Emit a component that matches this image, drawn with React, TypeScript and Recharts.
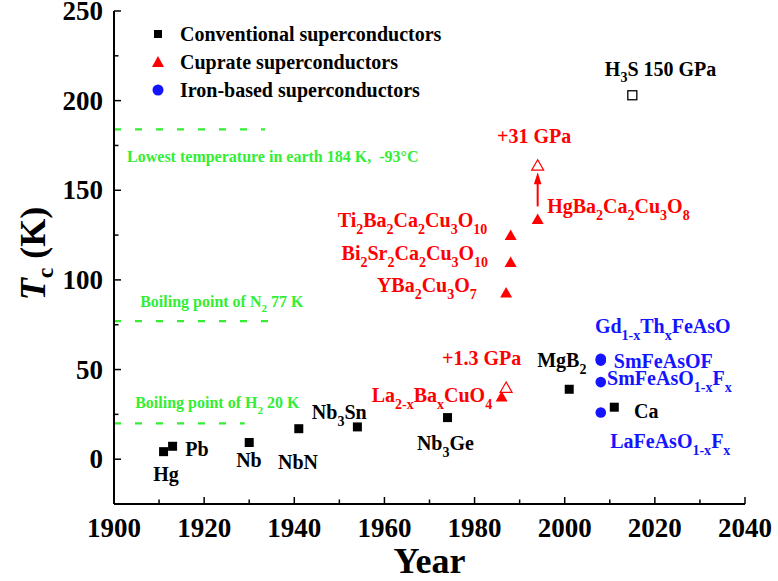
import React from "react";
import {
  ScatterChart,
  Scatter,
  XAxis,
  YAxis,
  ReferenceLine,
  Legend,
  Label,
} from "recharts";

const FONT = "'Liberation Serif', 'Times New Roman', serif";
const RED = "#ff0000";
const BLUE = "#1414ff";
const GREEN = "#33ee33";

// Tc (K) by discovery year
const conventional = [
  { name: "Hg", x: 1911, y: 4.2 },
  { name: "Pb", x: 1913, y: 7.2 },
  { name: "Nb", x: 1930, y: 9.3 },
  { name: "NbN", x: 1941, y: 17 },
  { name: "Nb3Sn", x: 1954, y: 18 },
  { name: "Nb3Ge", x: 1974, y: 23.2 },
  { name: "MgB2", x: 2001, y: 39 },
  { name: "Ca", x: 2011, y: 29 },
];
const hydride = [{ name: "H3S", x: 2015, y: 203 }];
const cuprate = [
  { name: "La2-xBaxCuO4", x: 1986, y: 35 },
  { name: "YBa2Cu3O7", x: 1987, y: 93 },
  { name: "Bi2Sr2Ca2Cu3O10", x: 1988, y: 110 },
  { name: "Tl2Ba2Ca2Cu3O10", x: 1988, y: 125 },
  { name: "HgBa2Ca2Cu3O8", x: 1994, y: 134 },
];
const cupratePressure = [
  { name: "La2-xBaxCuO4 1.3 GPa", x: 1987, y: 40 },
  { name: "HgBa2Ca2Cu3O8 31 GPa", x: 1994, y: 164 },
];
const ironBased = [
  { name: "LaFeAsO1-xFx", x: 2008, y: 26 },
  { name: "SmFeAsO1-xFx", x: 2008, y: 43 },
  { name: "SmFeAsOF", x: 2008, y: 55 },
  { name: "Gd1-xThxFeAsO", x: 2008, y: 56 },
];

// dashed reference temperatures
const levels = [
  { y: 184, end: 1933.5 },
  { y: 77, end: 1937.2 },
  { y: 20, end: 1929 },
];
const pressureArrow = [
  { x: 1994, y: 141 },
  { x: 1994, y: 160 },
];

const xTicks = [1900, 1910, 1920, 1930, 1940, 1950, 1960, 1970, 1980, 1990, 2000, 2010, 2020, 2030, 2040];
const yTicks = [0, 25, 50, 75, 100, 125, 150, 175, 200, 225, 250];

// annotation anchors in data units; "_" marks a subscript
const blackLabels = [
  { text: "Hg", x: 1908.7, y: -12.3 },
  { text: "Pb", x: 1915.8, y: 1.7 },
  { text: "Nb", x: 1927.1, y: -4.5 },
  { text: "NbN", x: 1936.4, y: -5.6 },
  { text: "Nb_3Sn", x: 1943.9, y: 22.3 },
  { text: "Nb_3Ge", x: 1967.2, y: 5 },
  { text: "MgB_2", x: 1993.9, y: 51.3 },
  { text: "Ca", x: 2015.4, y: 22.9 },
  { text: "H_3S 150 GPa", x: 2008.9, y: 214 },
];
const redLabels = [
  { text: "+31 GPa", x: 1985, y: 176.1 },
  { text: "HgBa_2Ca_2Cu_3O_8", x: 1996.1, y: 137.1 },
  { text: "Ti_2Ba_2Ca_2Cu_3O_{10}", x: 1982.8, y: 129.3, anchor: "end" },
  { text: "Bi_2Sr_2Ca_2Cu_3O_{10}", x: 1983, y: 110.9, anchor: "end" },
  { text: "YBa_2Cu_3O_7", x: 1980.5, y: 93.1, anchor: "end" },
  { text: "+1.3 GPa", x: 1972.8, y: 52.4 },
  { text: "La_{2-x}Ba_xCuO_4", x: 1983.9, y: 31.8, anchor: "end" },
];
const blueLabels = [
  { text: "Gd_{1-x}Th_xFeAsO", x: 2006.7, y: 70.2 },
  { text: "SmFeAsOF", x: 2010.9, y: 50.7 },
  { text: "SmFeAsO_{1-x}F_x", x: 2009.4, y: 41.2 },
  { text: "LaFeAsO_{1-x}F_x", x: 2010.1, y: 6.1 },
];
const greenLabels = [
  { text: "Lowest temperature in earth 184 K,  -93°C", x: 1902.9, y: 165.6 },
  { text: "Boiling point of N_2 77 K", x: 1905.8, y: 84.9 },
  { text: "Boiling point of H_2 20 K", x: 1904.7, y: 28.3 },
];

const RichText = ({ x, y, text, size, fill, anchor = "start" }: any) => {
  const parts: any[] = [];
  const re = /_\{([^}]*)\}|_(.)/g;
  const sub = size * 0.33;
  let last = 0;
  let shift = 0;
  let k = 0;
  let m: RegExpExecArray | null;
  while ((m = re.exec(text)) !== null) {
    if (m.index > last) {
      parts.push(<tspan key={k++} dy={-shift}>{text.slice(last, m.index)}</tspan>);
      shift = 0;
    }
    parts.push(
      <tspan key={k++} dy={sub - shift} fontSize={size * 0.7}>
        {m[1] ?? m[2]}
      </tspan>
    );
    shift = sub;
    last = re.lastIndex;
  }
  if (last < text.length) parts.push(<tspan key={k++} dy={-shift}>{text.slice(last)}</tspan>);
  return (
    <text
      x={x}
      y={y}
      fill={fill}
      fontSize={size}
      fontFamily={FONT}
      fontWeight="bold"
      textAnchor={anchor}
      style={{ whiteSpace: "pre" }}
    >
      {parts}
    </text>
  );
};

const labelShape = (color: string, size: number) => (p: any) => (
  <RichText x={p.cx} y={p.cy} text={p.payload.text} anchor={p.payload.anchor} size={size} fill={color} />
);

const squareShape = (hollow: boolean) => (p: any) =>
  hollow ? (
    <rect x={p.cx - 4.5} y={p.cy - 4.5} width={9} height={9} fill="#fff" stroke="#000" strokeWidth={1.3} />
  ) : (
    <rect x={p.cx - 4.5} y={p.cy - 4.5} width={9} height={9} fill="#000" />
  );

const triangleShape = (hollow: boolean) => (p: any) => (
  <polygon
    points={`${p.cx},${p.cy - 5.5} ${p.cx - 6},${p.cy + 5} ${p.cx + 6},${p.cy + 5}`}
    fill={hollow ? "#fff" : RED}
    stroke={RED}
    strokeWidth={hollow ? 1.2 : 0}
  />
);

const circleShape = (p: any) => <circle cx={p.cx} cy={p.cy} r={5.3} fill={BLUE} />;

const tickText = { fontFamily: FONT, fontWeight: "bold", fontSize: 27, fill: "#000" } as const;

const BottomTick = ({ x, y, payload }: any) => {
  const major = payload.value % 20 === 0;
  return (
    <g>
      <line x1={x} x2={x} y1={y} y2={y - (major ? 7 : 4.5)} stroke="#000" strokeWidth={1.5} />
      {major && (
        <text x={x} y={y + 33} textAnchor="middle" {...tickText}>
          {payload.value}
        </text>
      )}
    </g>
  );
};

const TopTick = ({ x, y, payload }: any) => (
  <line x1={x} x2={x} y1={y} y2={y + (payload.value % 20 === 0 ? 7 : 4.5)} stroke="#000" strokeWidth={1.5} />
);

const LeftTick = ({ x, y, payload }: any) => {
  const major = payload.value % 50 === 0;
  return (
    <g>
      <line x1={x} x2={x + (major ? 7 : 4.5)} y1={y} y2={y} stroke="#000" strokeWidth={1.5} />
      {major && (
        <text x={x - 11} y={y} dy="0.34em" textAnchor="end" {...tickText}>
          {payload.value}
        </text>
      )}
    </g>
  );
};

const RightTick = ({ x, y, payload }: any) => (
  <line x1={x} x2={x - (payload.value % 50 === 0 ? 7 : 4.5)} y1={y} y2={y} stroke="#000" strokeWidth={1.5} />
);

const Arrow = ({ x1, y1, x2, y2 }: any) => (
  <g>
    <line x1={x1} y1={y1} x2={x2} y2={y2 + 8} stroke={RED} strokeWidth={2} />
    <polygon points={`${x2},${y2} ${x2 - 3.8},${y2 + 12} ${x2 + 3.8},${y2 + 12}`} fill={RED} />
  </g>
);

const LegendIcon = ({ type }: any) => (
  <svg width={16} height={16} style={{ display: "block" }}>
    {type === "square" && <rect x={4} y={4} width={8} height={8} fill="#000" />}
    {type === "triangle" && <polygon points="8,2 2,13 14,13" fill={RED} />}
    {type === "circle" && <circle cx={8} cy={8} r={5.5} fill={BLUE} />}
  </svg>
);

const LegendContent = ({ payload }: any) => (
  <div style={{ fontFamily: FONT, fontWeight: "bold", fontSize: 20, color: "#000" }}>
    {(payload || [])
      .filter((e: any) => e.type && e.type !== "none")
      .map((e: any) => (
        <div key={e.value} style={{ display: "flex", alignItems: "center", height: 28 }}>
          <LegendIcon type={e.type} />
          <span style={{ marginLeft: 14, whiteSpace: "nowrap" }}>{e.value}</span>
        </div>
      ))}
  </div>
);

const TcTitle = ({ viewBox }: any) => {
  const cx = 45;
  const cy = viewBox.y + viewBox.height / 2 - 4;
  return (
    <text
      x={cx}
      y={cy}
      transform={`rotate(-90, ${cx}, ${cy})`}
      textAnchor="middle"
      fontFamily={FONT}
      fontWeight="bold"
      fontSize={36}
      fill="#000"
    >
      <tspan fontStyle="italic">T</tspan>
      <tspan fontSize={24} dy={8}>c</tspan>
      <tspan dy={-8}> (K)</tspan>
    </text>
  );
};

const YearTitle = ({ viewBox }: any) => (
  <text
    x={viewBox.x + viewBox.width / 2}
    y={viewBox.y + 69}
    textAnchor="middle"
    fontFamily={FONT}
    fontWeight="bold"
    fontSize={36}
    fill="#000"
  >
    Year
  </text>
);

export default function App() {
  return (
    <div style={{ position: "absolute", left: 0, top: 0 }}>
      <ScatterChart width={778} height={581} margin={{ top: 11, right: 33, bottom: 37, left: 54 }}>
        <XAxis
          dataKey="x"
          type="number"
          domain={[1900, 2040]}
          ticks={xTicks}
          interval={0}
          allowDataOverflow
          height={40}
          tickSize={0}
          tickMargin={0}
          tickLine={false}
          tick={BottomTick}
          axisLine={{ stroke: "#000", strokeWidth: 2 }}
        >
          <Label content={YearTitle} />
        </XAxis>
        <XAxis
          xAxisId="top"
          orientation="top"
          type="number"
          domain={[1900, 2040]}
          ticks={xTicks}
          interval={0}
          allowDataOverflow
          height={0}
          tickSize={0}
          tickMargin={0}
          tickLine={false}
          tick={TopTick}
          axisLine={{ stroke: "#000", strokeWidth: 2 }}
        />
        <YAxis
          dataKey="y"
          type="number"
          domain={[-25, 250]}
          ticks={yTicks}
          interval={0}
          allowDataOverflow
          width={60}
          tickSize={0}
          tickMargin={0}
          tickLine={false}
          tick={LeftTick}
          axisLine={{ stroke: "#000", strokeWidth: 2 }}
        >
          <Label content={TcTitle} />
        </YAxis>
        <YAxis
          yAxisId="right"
          orientation="right"
          type="number"
          domain={[-25, 250]}
          ticks={yTicks}
          interval={0}
          allowDataOverflow
          width={0}
          tickSize={0}
          tickMargin={0}
          tickLine={false}
          tick={RightTick}
          axisLine={{ stroke: "#000", strokeWidth: 2 }}
        />

        {levels.map((l) => (
          <ReferenceLine
            key={l.y}
            segment={[
              { x: 1900, y: l.y },
              { x: l.end, y: l.y },
            ]}
            stroke={GREEN}
            strokeWidth={2.2}
            strokeDasharray="7 14"
          />
        ))}
        <ReferenceLine segment={pressureArrow} shape={Arrow} />

        <Scatter name="Conventional superconductors" data={conventional} legendType="square" fill="#000" shape={squareShape(false)} isAnimationActive={false} />
        <Scatter name="Cuprate superconductors" data={cuprate} legendType="triangle" fill={RED} shape={triangleShape(false)} isAnimationActive={false} />
        <Scatter name="Iron-based superconductors" data={ironBased} legendType="circle" fill={BLUE} shape={circleShape} isAnimationActive={false} />
        <Scatter name="hydride" data={hydride} legendType="none" shape={squareShape(true)} isAnimationActive={false} />
        <Scatter name="cuprate-pressure" data={cupratePressure} legendType="none" shape={triangleShape(true)} isAnimationActive={false} />

        <Scatter name="black-labels" data={blackLabels} legendType="none" shape={labelShape("#000", 20)} isAnimationActive={false} />
        <Scatter name="red-labels" data={redLabels} legendType="none" shape={labelShape(RED, 20)} isAnimationActive={false} />
        <Scatter name="blue-labels" data={blueLabels} legendType="none" shape={labelShape(BLUE, 20)} isAnimationActive={false} />
        <Scatter name="green-labels" data={greenLabels} legendType="none" shape={labelShape(GREEN, 16)} isAnimationActive={false} />

        <Legend
          layout="vertical"
          align="center"
          verticalAlign="middle"
          content={LegendContent}
          wrapperStyle={{ left: 150, top: 20, width: "auto", height: "auto" }}
        />
      </ScatterChart>
    </div>
  );
}
